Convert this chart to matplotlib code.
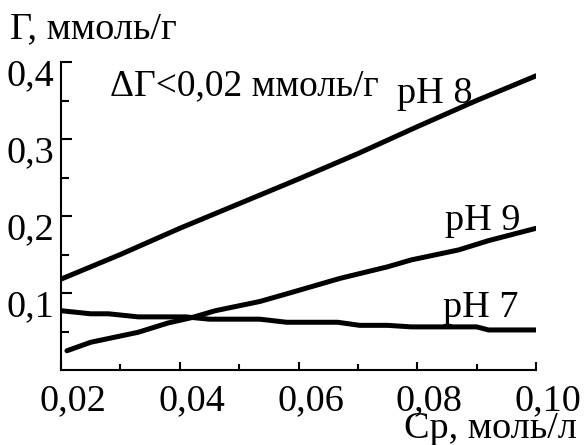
import matplotlib
matplotlib.use('Agg')
import matplotlib.pyplot as plt
import matplotlib.transforms as mtransforms
import numpy as np

# values
cp_ph8 = [0.020, 0.030, 0.040, 0.050, 0.060, 0.070, 0.080, 0.090, 0.100]
g_ph8 = [0.118, 0.150, 0.184, 0.216, 0.248, 0.281, 0.316, 0.350, 0.382]

cp_ph9 = [0.021, 0.025, 0.033, 0.038, 0.042, 0.046, 0.0535, 0.0585, 0.067, 0.075, 0.079, 0.087, 0.092, 0.100]
g_ph9 = [0.025, 0.036, 0.049, 0.061, 0.068, 0.077, 0.089, 0.100, 0.119, 0.134, 0.143, 0.156, 0.168, 0.184]

cp_ph7 = [0.020, 0.025, 0.028, 0.033, 0.041, 0.045, 0.0535, 0.058, 0.0666, 0.0703, 0.075, 0.079, 0.090, 0.092, 0.100]
g_ph7 = [0.077, 0.073, 0.073, 0.069, 0.069, 0.066, 0.066, 0.062, 0.062, 0.058, 0.058, 0.056, 0.056, 0.052, 0.052]

xticks = [0.02, 0.04, 0.06, 0.08, 0.10]
xticklabels = ['0,02', '0,04', '0,06', '0,08', '0,10']
yticks = [0.1, 0.2, 0.3, 0.4]
yticklabels = ['0,1', '0,2', '0,3', '0,4']

plt.rcParams['font.family'] = ['Liberation Serif', 'DejaVu Serif']
fs = 27.5

fig = plt.figure(figsize=(5.84, 4.45), dpi=100)
ax = fig.add_axes([61/584, 75/445, 475/584, 308/445])

lw = 3.6
ax.plot(cp_ph8, g_ph8, color='black', lw=lw, solid_capstyle='round', solid_joinstyle='round')
ax.plot(cp_ph9, g_ph9, color='black', lw=lw, solid_capstyle='round', solid_joinstyle='round')
ax.plot(cp_ph7, g_ph7, color='black', lw=lw, solid_capstyle='round', solid_joinstyle='round')

ax.set_xlim(0.02, 0.10)
ax.set_ylim(0, 0.4)
ax.spines['top'].set_visible(False)
ax.spines['right'].set_visible(False)
ax.spines['left'].set_linewidth(1.5)
ax.spines['bottom'].set_linewidth(1.5)

ax.set_xticks(xticks)
ax.set_xticklabels(xticklabels)
ax.set_xticks(np.arange(0.02, 0.101, 0.01), minor=True)
ax.set_yticks(yticks)
ax.set_yticklabels(yticklabels)
ax.set_yticks(np.arange(0.05, 0.41, 0.05), minor=True)
ax.tick_params(axis='both', which='both', direction='in', width=1.5, labelsize=fs)
ax.tick_params(axis='x', which='major', length=6, pad=10)
ax.tick_params(axis='x', which='minor', length=4)
ax.tick_params(axis='y', which='major', length=8, pad=5)
ax.tick_params(axis='y', which='minor', length=6)

# labels in the original sit a bit off their ticks
dx = mtransforms.ScaledTranslation(0.12, 0, fig.dpi_scale_trans)
for lab in ax.get_xticklabels():
    lab.set_transform(lab.get_transform() + dx)
dy = mtransforms.ScaledTranslation(0, -0.10, fig.dpi_scale_trans)
for lab in ax.get_yticklabels():
    lab.set_transform(lab.get_transform() + dy)

ax.text(0.0766, 0.347, 'pH 8', fontsize=fs)
ax.text(0.0847, 0.182, 'pH 9', fontsize=fs)
ax.text(0.0843, 0.069, 'pH 7', fontsize=fs)
ax.text(0.0283, 0.357, 'ΔΓ<0,02 ммоль/г', fontsize=27)

fig.text(10/584, 1 - 38/445, 'Γ, ммоль/г', fontsize=fs, ha='left', va='baseline')
fig.text(577/584, 1 - 438/445, 'Ср, моль/л', fontsize=fs, ha='right', va='baseline')

fig.savefig('out.png', dpi=100)
